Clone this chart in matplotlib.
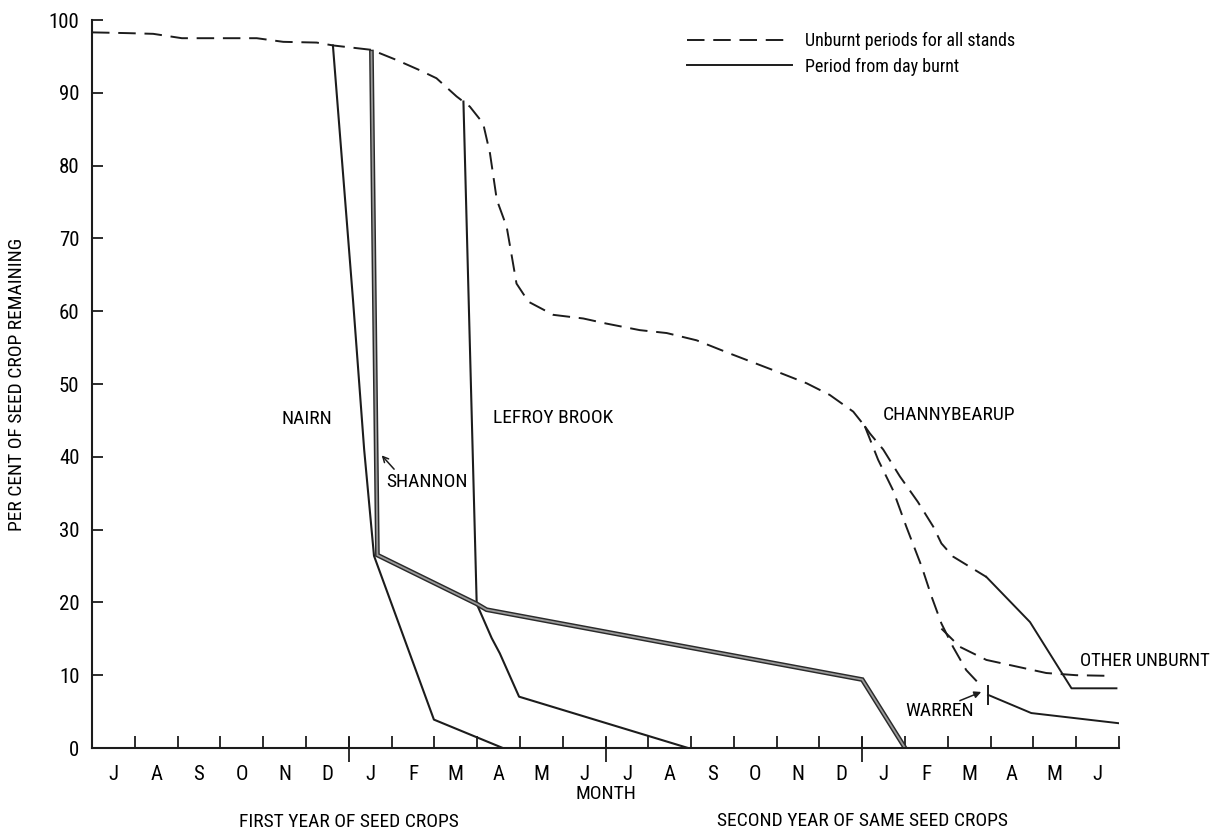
import numpy as np
import matplotlib.pyplot as plt
from matplotlib import font_manager
from matplotlib.lines import Line2D

# narrow lettering: use a condensed face if one is installed
installed = {f.name for f in font_manager.fontManager.ttflist}
narrow = [n for n in ['Roboto Condensed', 'Liberation Sans Narrow', 'Open Sans Condensed',
                      'Noto Sans Condensed', 'DejaVu Sans Condensed'] if n in installed]
plt.rcParams['font.family'] = narrow + ['Roboto', 'DejaVu Sans']
plt.rcParams['font.stretch'] = 'condensed'

# time axis: months counted from 1 July of the first year
month_labels = ['J', 'A', 'S', 'O', 'N', 'D', 'J', 'F', 'M', 'A', 'M', 'J',
                'J', 'A', 'S', 'O', 'N', 'D', 'J', 'F', 'M', 'A', 'M', 'J']

# unburnt stands (dashed), common part up to the split in the second summer
unburnt_t = [0.0, 0.81, 1.43, 2.1, 3.3, 3.85, 4.47, 5.25, 5.64, 6.53, 7.12, 7.66,
             8.05, 8.52, 8.83, 9.14, 9.3, 9.46, 9.69, 9.8, 9.92, 10.2, 10.78,
             11.48, 12.02, 12.8, 13.43, 14.13, 14.9, 15.92, 16.7, 17.24, 17.79, 18.06]
unburnt_v = [98.3, 98.2, 98.1, 97.5, 97.5, 97.5, 97.0, 96.9, 96.5, 95.9, 94.5, 93.1,
             92.0, 89.5, 88.1, 85.8, 81.7, 75.3, 71.6, 67.9, 63.8, 61.3, 59.5,
             59.0, 58.3, 57.4, 57.0, 56.0, 54.2, 51.9, 50.1, 48.5, 46.2, 44.2]

# Channybearup: unburnt (dashed) then after burning (solid)
chan_unburnt_t = [18.06, 18.18, 18.49, 18.88, 19.3, 19.66, 19.85, 20.12, 20.51, 20.9]
chan_unburnt_v = [44.2, 43.2, 41.0, 37.3, 33.8, 30.4, 28.1, 26.3, 24.9, 23.5]
chan_burnt_t = [20.9, 21.92, 22.89, 23.94]
chan_burnt_v = [23.5, 17.3, 8.2, 8.2]

# Warren: unburnt (dashed) then after burning (solid)
warren_unburnt_t = [18.06, 18.37, 18.72, 19.03, 19.39, 19.62, 19.85, 20.12, 20.43, 20.75]
warren_unburnt_v = [44.2, 39.6, 35.4, 30.4, 24.9, 20.8, 17.1, 13.9, 10.7, 8.7]
warren_burnt_t = [20.94, 21.95, 24.0]
warren_burnt_v = [7.3, 4.8, 3.4]
warren_day_t = 20.94
warren_day_v = [5.9, 8.7]

# other unburnt stands after the split
other_t = [19.85, 20.28, 20.9, 21.6, 22.3, 23.0, 23.86]
other_v = [16.4, 13.9, 12.1, 11.2, 10.3, 10.0, 9.9]

# burnt stands (solid)
nairn_t = [5.63, 6.1, 6.36, 6.59, 7.99, 9.6]
nairn_v = [96.5, 61.5, 41.0, 26.4, 3.9, 0.0]
shannon_t = [6.53, 6.67, 8.99, 9.22, 18.0, 19.0]
shannon_v = [95.6, 26.5, 19.8, 19.0, 9.4, 0.0]
lefroy_t = [8.68, 8.99, 9.34, 9.53, 9.98, 13.93]
lefroy_v = [88.8, 19.8, 15.1, 13.0, 7.05, 0.0]

ink = '#1c1c1c'
dash = (9, 4.5)
fs = 15
lab = 14

fig = plt.figure(figsize=(12.15, 8.32), dpi=100)
ax = fig.add_axes([92 / 1215, 84 / 832, 1027 / 1215, 728 / 832])

ax.plot(unburnt_t, unburnt_v, color=ink, lw=1.4, dashes=dash)
ax.plot(chan_unburnt_t, chan_unburnt_v, color=ink, lw=1.4, dashes=dash)
ax.plot(warren_unburnt_t, warren_unburnt_v, color=ink, lw=1.4, dashes=dash)
ax.plot(other_t, other_v, color=ink, lw=1.4, dashes=dash)

ax.plot(chan_burnt_t, chan_burnt_v, color=ink, lw=1.4)
ax.plot(warren_burnt_t, warren_burnt_v, color=ink, lw=1.4)
ax.vlines(warren_day_t, warren_day_v[0], warren_day_v[1], color=ink, lw=1.4)
ax.plot(nairn_t, nairn_v, color=ink, lw=1.5)
ax.plot(lefroy_t, lefroy_v, color=ink, lw=1.5)
# Shannon is drawn as a double line
ax.plot(shannon_t, shannon_v, color='#2a2a2a', lw=3.4, solid_joinstyle='miter')
ax.plot(shannon_t, shannon_v, color='#9a9a9a', lw=1.3, solid_joinstyle='miter')

ax.set_xlim(0, 24)
ax.set_ylim(0, 100)
for side in ['top', 'right']:
    ax.spines[side].set_visible(False)
for side in ['left', 'bottom']:
    ax.spines[side].set_linewidth(1.5)
    ax.spines[side].set_color(ink)

ax.set_xticks(np.arange(1, 25))
ax.set_xticklabels([])
ax.set_xticks(np.arange(24) + 0.5, minor=True)
ax.set_xticklabels(month_labels, minor=True, fontsize=fs)
ax.tick_params(axis='x', which='major', direction='in', length=9, width=1.3, color=ink)
ax.tick_params(axis='x', which='minor', length=0, pad=12)
# year boundaries get a longer tick through the axis
xt = ax.get_xaxis_transform()
ax.vlines([6, 12, 18], -0.019, 0.015, transform=xt, color=ink, lw=1.3, clip_on=False)

ax.set_yticks(np.arange(0, 101, 10))
ax.tick_params(axis='y', direction='in', length=8, width=1.3, color=ink, pad=9, labelsize=fs)

ax.set_ylabel('PER CENT OF SEED CROP REMAINING', fontsize=lab)
ax.yaxis.set_label_coords(-0.064, 0.5)

ax.text(12, -0.063, 'MONTH', transform=xt, ha='center', va='center', fontsize=lab)
ax.text(6, -0.101, 'FIRST YEAR OF SEED CROPS', transform=xt, ha='center', va='center', fontsize=lab)
ax.text(18, -0.1, 'SECOND YEAR OF SAME SEED CROPS', transform=xt, ha='center', va='center', fontsize=lab)

ax.text(5.02, 45.2, 'NAIRN', ha='center', va='center', fontsize=lab)
ax.text(6.87, 36.5, 'SHANNON', ha='left', va='center', fontsize=lab)
ax.text(9.37, 45.3, 'LEFROY BROOK', ha='left', va='center', fontsize=lab)
ax.text(18.48, 45.8, 'CHANNYBEARUP', ha='left', va='center', fontsize=lab)
ax.text(23.1, 12.0, 'OTHER UNBURNT', ha='left', va='center', fontsize=13.5)
ax.text(19.0, 5.1, 'WARREN', ha='left', va='center', fontsize=lab)
ax.annotate('', xy=(6.77, 40.2), xytext=(7.06, 38.3),
            arrowprops=dict(arrowstyle='->', color=ink, lw=1.1, shrinkA=0, shrinkB=0))
ax.annotate('', xy=(20.78, 7.7), xytext=(20.28, 6.5),
            arrowprops=dict(arrowstyle='-|>', color=ink, lw=1.1, shrinkA=0, shrinkB=0,
                            mutation_scale=10))

handles = [Line2D([], [], color=ink, lw=1.4, dashes=dash),
           Line2D([], [], color=ink, lw=1.4)]
ax.legend(handles, ['Unburnt periods for all stands', 'Period from day burnt'],
          loc='center left', bbox_to_anchor=(687 / 1215, 778 / 832),
          bbox_transform=fig.transFigure, frameon=False, fontsize=13,
          handlelength=5.8, handletextpad=0.72, labelspacing=0.4,
          borderpad=0, borderaxespad=0)

fig.savefig('out.png', dpi=100)
